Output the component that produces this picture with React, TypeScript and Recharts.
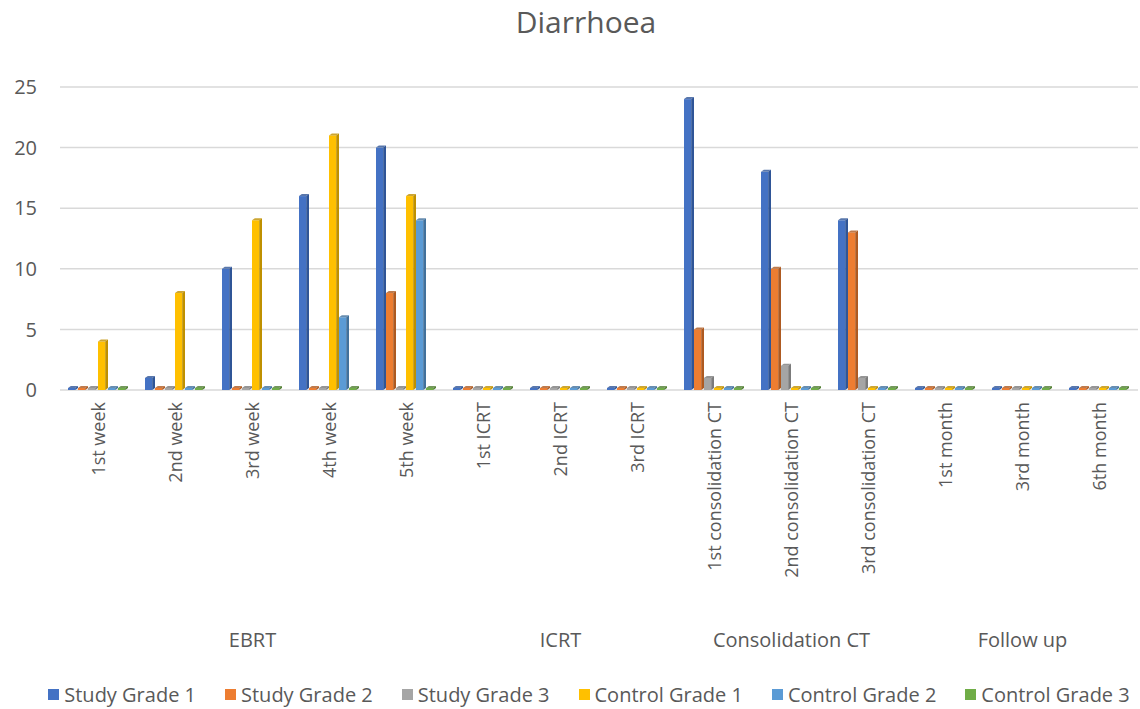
import React from 'react';
import { BarChart, Bar, XAxis, YAxis, CartesianGrid, Legend } from 'recharts';

const categories = ['1st week', '2nd week', '3rd week', '4th week', '5th week', '1st ICRT', '2nd ICRT', '3rd ICRT', '1st consolidation CT', '2nd consolidation CT', '3rd consolidation CT', '1st month', '3rd month', '6th month'];
const groupNames = ['EBRT', 'ICRT', 'Consolidation CT', 'Follow up'];
const groupSizes = [5, 3, 3, 3];

const studyGrade1 = [0, 1, 10, 16, 20, 0, 0, 0, 24, 18, 14, 0, 0, 0];
const studyGrade2 = [0, 0, 0, 0, 8, 0, 0, 0, 5, 10, 13, 0, 0, 0];
const studyGrade3 = [0, 0, 0, 0, 0, 0, 0, 0, 1, 2, 1, 0, 0, 0];
const controlGrade1 = [4, 8, 14, 21, 16, 0, 0, 0, 0, 0, 0, 0, 0, 0];
const controlGrade2 = [0, 0, 0, 6, 14, 0, 0, 0, 0, 0, 0, 0, 0, 0];
const controlGrade3 = [0, 0, 0, 0, 0, 0, 0, 0, 0, 0, 0, 0, 0, 0];
const yTicks = [0, 5, 10, 15, 20, 25];

const seriesDefs = [
  { key: 'sg1', name: 'Study Grade 1', values: studyGrade1, color: '#4472C4', dark: '#2F5597' },
  { key: 'sg2', name: 'Study Grade 2', values: studyGrade2, color: '#ED7D31', dark: '#AE5A21' },
  { key: 'sg3', name: 'Study Grade 3', values: studyGrade3, color: '#A5A5A5', dark: '#7B7B7B' },
  { key: 'cg1', name: 'Control Grade 1', values: controlGrade1, color: '#FFC000', dark: '#BF9000' },
  { key: 'cg2', name: 'Control Grade 2', values: controlGrade2, color: '#5B9BD5', dark: '#41719C' },
  { key: 'cg3', name: 'Control Grade 3', values: controlGrade3, color: '#70AD47', dark: '#507E32' },
];

const data = categories.map((c, i) => {
  const row: any = { cat: c };
  seriesDefs.forEach((s) => { row[s.key] = s.values[i]; });
  return row;
});

const middleIndex: Record<number, string> = {};
{
  let start = 0;
  groupSizes.forEach((n, gi) => {
    middleIndex[start + Math.floor(n / 2)] = groupNames[gi];
    start += n;
  });
}

const FONT = '"Open Sans", "Noto Sans", Arial, sans-serif';
const TXT = '#595959';

const make3D = (color: string, dark: string) => (props: any) => {
  const { x, y, width, height } = props;
  if (width == null || height == null) return null;
  const d = Math.max(2, width * 0.28);
  const fw = width - d;
  const up = 2;
  return (
    <g>
      <rect x={x} y={y} width={fw} height={height} fill={color} />
      <polygon points={`${x + fw},${y} ${x + width},${y - up} ${x + width},${y + height - up} ${x + fw},${y + height}`} fill={dark} />
      <polygon points={`${x},${y} ${x + d},${y - up} ${x + width},${y - up} ${x + fw},${y}`} fill={dark} opacity={0.8} />
    </g>
  );
};

const CatTick = (props: any) => {
  const { x, y, payload } = props;
  return (
    <g transform={`translate(${x},${y})`}>
      <text transform="rotate(-90)" x={-4} y={0} dy="0.35em" textAnchor="end" fill={TXT} fontSize={18} fontFamily={FONT}>
        {payload.value}
      </text>
    </g>
  );
};

const GroupTick = (props: any) => {
  const { x, y, index } = props;
  const label = middleIndex[index];
  if (!label) return null;
  return (
    <text x={x} y={y + 42} dy="0.35em" textAnchor="middle" fill={TXT} fontSize={20} fontFamily={FONT}>
      {label}
    </text>
  );
};

const LegendContent = () => (
  <div style={{ display: 'flex', justifyContent: 'center', alignItems: 'center', gap: 29, height: 30, paddingLeft: 40, fontFamily: FONT, fontSize: 20, color: TXT, whiteSpace: 'nowrap' }}>
    {seriesDefs.map((s) => (
      <div key={s.key} style={{ display: 'flex', alignItems: 'center', gap: 5 }}>
        <span style={{ display: 'inline-block', width: 11, height: 11, background: s.color }} />
        <span>{s.name}</span>
      </div>
    ))}
  </div>
);

export default function App() {
  return (
    <div style={{ position: 'absolute', left: 0, top: 0, width: 1140, height: 709, background: '#fff' }}>
      <BarChart
        width={1140}
        height={709}
        data={data}
        margin={{ top: 87, right: 2, left: 0, bottom: 0 }}
        barCategoryGap={8}
        barGap={0}
      >
        <text x={586} y={25} textAnchor="middle" dominantBaseline="middle" fill={TXT} fontSize={30} fontFamily={FONT}>
          Diarrhoea
        </text>
        <CartesianGrid vertical={false} stroke="#D9D9D9" strokeWidth={1.5} />
        <XAxis dataKey="cat" interval={0} height={200} tick={<CatTick />} tickLine={false} axisLine={false} />
        <XAxis dataKey="cat" xAxisId="grp" interval={0} height={89} tick={<GroupTick />} tickLine={false} axisLine={false} />
        <YAxis domain={[0, 25]} ticks={yTicks} width={60} tickLine={false} axisLine={false} tick={{ fill: TXT, fontSize: 20, fontFamily: FONT }} tickMargin={17} />
        <Legend verticalAlign="bottom" height={30} content={<LegendContent />} />
        {seriesDefs.map((s) => (
          <Bar key={s.key} dataKey={s.key} name={s.name} fill={s.color} isAnimationActive={false} minPointSize={2} shape={make3D(s.color, s.dark)} />
        ))}
      </BarChart>
    </div>
  );
}
